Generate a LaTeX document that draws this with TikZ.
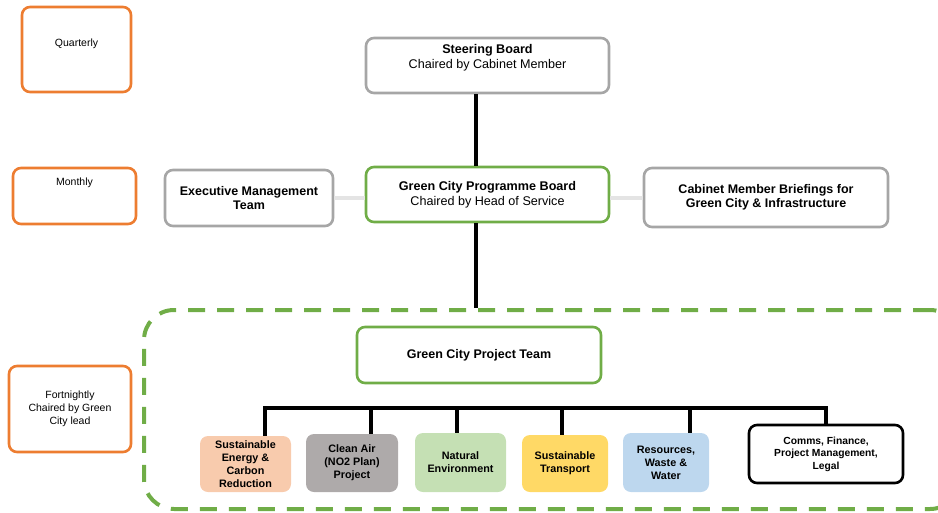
\documentclass[tikz,border=0pt]{standalone}
\usepackage{fontspec}
\setmainfont{Liberation Sans}
\definecolor{orange1}{HTML}{ED7D31}
\definecolor{grey1}{HTML}{A6A6A6}
\definecolor{green1}{HTML}{70AD47}
\definecolor{peach}{HTML}{F8CBAD}
\definecolor{greyfill}{HTML}{AEAAAA}
\definecolor{lgreen}{HTML}{C5E0B4}
\definecolor{yellow1}{HTML}{FFD966}
\definecolor{lblue}{HTML}{BDD7EE}
\definecolor{lightline}{HTML}{E4E4E4}
\begin{document}
\begin{tikzpicture}[x=1pt,y=-1pt,
  base/.style={draw, rounded corners=8pt, line width=2.6pt, align=center, inner sep=0pt, fill=white},
  freq/.style={base, draw=orange1},
  greybox/.style={base, draw=grey1},
  greenbox/.style={base, draw=green1},
  small/.style={align=center, inner sep=0pt, font=\fontsize{10.5}{12.8}\selectfont},
  big/.style={font=\fontsize{12.6}{14.5}\selectfont},
  bigbold/.style={font=\bfseries\fontsize{12.5}{14.5}\selectfont},
  work/.style={rounded corners=8pt, inner sep=0pt, align=center, font=\bfseries\fontsize{10.8}{13}\selectfont},
  blackline/.style={line width=4pt, black},
  greyline/.style={line width=4pt, lightline}
]
\useasboundingbox (0,0) rectangle (938,512);

% dashed team area
\node[draw=green1, line width=4pt, dash pattern=on 17pt off 12pt, rounded corners=30pt,
      minimum width=816pt, minimum height=199pt, inner sep=0pt] (area) at (552,409.5) {};

% frequency boxes
\node[freq, minimum width=109pt, minimum height=85pt] (quarterly) at (76.5,49.5) {};
\node[small] (qtext) at (76.5,44) {Quarterly};
\node[freq, minimum width=123pt, minimum height=56pt] (monthly) at (74.5,196) {};
\node[small] (mtext) at (74.5,183) {Monthly};
\node[freq, small, minimum width=122pt, minimum height=86pt, line width=2.6pt] (fortnightly) at (70,409)
  {Fortnightly\\Chaired by Green\\City lead};

% boards
\node[greybox, minimum width=243pt, minimum height=55pt] (steering) at (487.5,65.5) {};
\node[align=center, inner sep=0pt, font=\fontsize{12.6}{15}\selectfont] (steertext) at (487.5,57.5)
  {\textbf{Steering Board}\\Chaired by Cabinet Member};
\node[greenbox, big, minimum width=243pt, minimum height=55pt] (prog) at (487.5,194.5)
  {\textbf{Green City Programme Board}\\Chaired by Head of Service};
\node[greybox, bigbold, minimum width=168pt, minimum height=56pt] (exec) at (249,198)
  {Executive Management\\Team};
\node[greybox, bigbold, minimum width=244pt, minimum height=59pt] (cabinet) at (766,197.5)
  {Cabinet Member Briefings for\\Green City \& Infrastructure};

% project team
\node[greenbox, bigbold, minimum width=244pt, minimum height=56pt] (team) at (479,355)
  {Green City Project Team};

% workstreams
\node[work, fill=peach, minimum width=91pt, minimum height=56pt] (w1) at (245.5,464)
  {Sustainable\\Energy \&\\Carbon\\Reduction};
\node[work, fill=greyfill, minimum width=92pt, minimum height=58pt] (w2) at (352,463)
  {Clean Air\\(NO2 Plan)\\Project};
\node[work, fill=lgreen, minimum width=91pt, minimum height=59pt] (w3) at (460.5,462.5)
  {Natural\\Environment};
\node[work, fill=yellow1, minimum width=86pt, minimum height=57pt] (w4) at (565,463.5)
  {Sustainable\\Transport};
\node[work, fill=lblue, minimum width=86pt, minimum height=59pt] (w5) at (666,462.5)
  {Resources,\\Waste \&\\Water};
\node[work, draw=black, line width=2.6pt, fill=white, minimum width=154pt, minimum height=58pt,
      font=\bfseries\fontsize{10.3}{12.6}\selectfont] (w6) at (826,454)
  {Comms, Finance,\\Project Management,\\Legal};

% connectors
\coordinate (spine) at (476,0);
\draw[blackline] (spine |- steering.south) -- (spine |- prog.north);
\draw[blackline] (spine |- prog.south) -- (spine |- area.north);
\draw[greyline] (exec.east) -- (exec.east -| prog.west);
\draw[greyline] (prog.east |- cabinet.west) -- (cabinet.west);

\coordinate (d1) at (265,408);
\coordinate (d2) at (371,408);
\coordinate (d3) at (457,408);
\coordinate (d4) at (562,408);
\coordinate (d5) at (690,408);
\coordinate (d6) at (826,408);
\draw[blackline, line join=miter] (d1 |- w1.north) -- (d1) -- (d6) -- (d6 |- w6.north);
\draw[blackline] (d2) -- (d2 |- w2.north);
\draw[blackline] (d3) -- (d3 |- w3.north);
\draw[blackline] (d4) -- (d4 |- w4.north);
\draw[blackline] (d5) -- (d5 |- w5.north);
\end{tikzpicture}
\end{document}
